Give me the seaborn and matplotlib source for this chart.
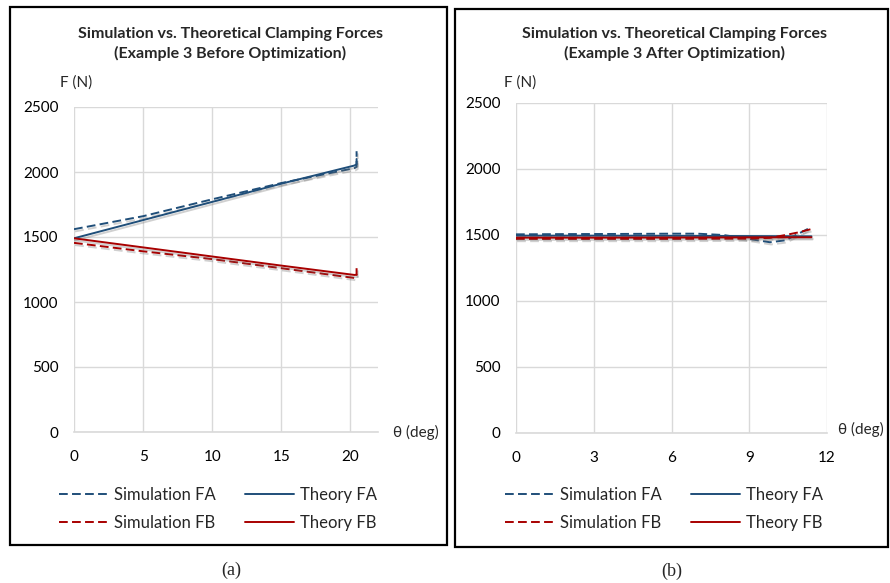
import numpy as np
import pandas as pd
import matplotlib
matplotlib.use('Agg')
import matplotlib.pyplot as plt
import matplotlib.patheffects as pe
from matplotlib.patches import Rectangle
from matplotlib.lines import Line2D
import seaborn as sns

sns.set_style('white')
plt.rcParams['font.family'] = ['Lato', 'DejaVu Sans']

# ---- data: (a) before optimization ----
a_sim_fa_x = [0, 5, 10, 15, 20.3, 20.45, 20.45]
a_sim_fa_y = [1560, 1660, 1790, 1915, 2030, 2040, 2160]
a_thy_fa_x = [0, 5, 10, 15, 20.3, 20.45, 20.45]
a_thy_fa_y = [1490, 1630, 1770, 1910, 2050, 2060, 2100]
a_sim_fb_x = [0, 5, 10, 15, 20.3, 20.45, 20.45]
a_sim_fb_y = [1455, 1390, 1330, 1260, 1185, 1190, 1260]
a_thy_fb_x = [0, 5, 10, 15, 20.3, 20.45]
a_thy_fb_y = [1490, 1420, 1350, 1280, 1208, 1210]

# ---- data: (b) after optimization ----
b_sim_fa_x = [0, 2, 4, 6, 7, 8, 9, 9.8, 10.4, 10.9, 11.4]
b_sim_fa_y = [1505, 1507, 1508, 1510, 1510, 1500, 1470, 1445, 1460, 1510, 1560]
b_thy_fa_x = [0, 3, 6, 9, 11.4]
b_thy_fa_y = [1495, 1495, 1494, 1492, 1490]
b_sim_fb_x = [0, 3, 6, 9, 9.8, 10.4, 10.9, 11.4]
b_sim_fb_y = [1470, 1470, 1470, 1472, 1478, 1500, 1520, 1545]
b_thy_fb_x = [0, 3, 6, 9, 11.4]
b_thy_fb_y = [1480, 1480, 1481, 1482, 1483]

labels = ['Simulation FA', 'Theory FA', 'Simulation FB', 'Theory FB']
blue = '#1F4E79'
red = '#A80000'
grid_c = '#D9D9D9'
dash = (4.5, 2.2)

W, H = 890, 583
fig = plt.figure(figsize=(8.9, 5.83), dpi=100)


def px_axes(left, right, top, bottom):
    return fig.add_axes([left / W, 1 - bottom / H, (right - left) / W, (bottom - top) / H])


def draw_panel(ax, series, xmax, xticks):
    shadow = [pe.SimpleLineShadow(offset=(0.8, -1.6), shadow_color='#666666', alpha=0.3),
              pe.Normal()]
    for (xs, ys, lab, col, dashed) in series:
        df = pd.DataFrame({'theta': xs, 'F': ys})
        sns.lineplot(data=df, x='theta', y='F', ax=ax, color=col, lw=1.4,
                     sort=False, estimator=None, legend=False,
                     path_effects=shadow)
        if dashed:
            ax.lines[-1].set_dashes(dash)
    ax.set_xlim(0, xmax)
    ax.set_ylim(0, 2500)
    ax.set_xticks(xticks)
    ax.set_yticks([0, 500, 1000, 1500, 2000, 2500])
    ax.grid(True, color=grid_c, lw=1.0)
    ax.set_axisbelow(True)
    for s in ['top', 'right', 'left']:
        ax.spines[s].set_visible(False)
    ax.spines['bottom'].set_color(grid_c)
    ax.spines['bottom'].set_linewidth(1.2)
    ax.tick_params(length=0, labelsize=11, colors='black', pad=11)
    ax.tick_params(axis='x', pad=13)
    ax.set_xlabel('')
    ax.set_ylabel('')


# panel (a)
ax1 = px_axes(74, 378, 107, 432)
draw_panel(ax1, [
    (a_sim_fa_x, a_sim_fa_y, labels[0], blue, True),
    (a_thy_fa_x, a_thy_fa_y, labels[1], blue, False),
    (a_sim_fb_x, a_sim_fb_y, labels[2], red, True),
    (a_thy_fb_x, a_thy_fb_y, labels[3], red, False),
], 22, [0, 5, 10, 15, 20])

# panel (b)
ax2 = px_axes(516, 827, 103, 433)
draw_panel(ax2, [
    (b_sim_fa_x, b_sim_fa_y, labels[0], blue, True),
    (b_thy_fa_x, b_thy_fa_y, labels[1], blue, False),
    (b_sim_fb_x, b_sim_fb_y, labels[2], red, True),
    (b_thy_fb_x, b_thy_fb_y, labels[3], red, False),
], 12, [0, 3, 6, 9, 12])

# legend proxies (no shadow in the legend)
handles = [Line2D([], [], color=blue, lw=1.4, dashes=dash),
           Line2D([], [], color=red, lw=1.4, dashes=dash),
           Line2D([], [], color=blue, lw=1.4),
           Line2D([], [], color=red, lw=1.4)]
leg_labels = [labels[0], labels[2], labels[1], labels[3]]

# titles, axis labels, legends
for ax, cx, lx, sub, fx, thx, thy in [
        (ax1, 230, 218, 'Before', 76, 416, 432),
        (ax2, 674, 664, 'After', 520, 861, 429)]:
    fig.text(cx / W, 1 - 44 / H,
             'Simulation vs. Theoretical Clamping Forces\n(Example 3 %s Optimization)' % sub,
             ha='center', va='center', fontsize=11.5, fontweight='bold', linespacing=1.4)
    fig.text(fx / W, 1 - 83 / H, 'F (N)', ha='center', va='center', fontsize=11)
    fig.text(thx / W, 1 - thy / H, 'θ (deg)', ha='center', va='center', fontsize=11)
    fig.legend(handles, leg_labels,
               loc='center', bbox_to_anchor=(lx / W, 1 - 509 / H), ncol=2,
               frameon=False, fontsize=12, handlelength=2.9, handletextpad=0.4,
               columnspacing=1.8, labelspacing=0.75)

# panel borders and captions
fig.add_artist(Rectangle((10 / W, 1 - 545 / H), 437 / W, 538 / H, transform=fig.transFigure,
                         fill=False, ec='black', lw=1.6))
fig.add_artist(Rectangle((455 / W, 1 - 547 / H), 433 / W, 538 / H, transform=fig.transFigure,
                         fill=False, ec='black', lw=1.6))
fig.text(231 / W, 1 - 570 / H, '(a)', ha='center', va='center', fontsize=13,
         family='Liberation Serif')
fig.text(672 / W, 1 - 571 / H, '(b)', ha='center', va='center', fontsize=13,
         family='Liberation Serif')

fig.savefig('out.png', dpi=100)
